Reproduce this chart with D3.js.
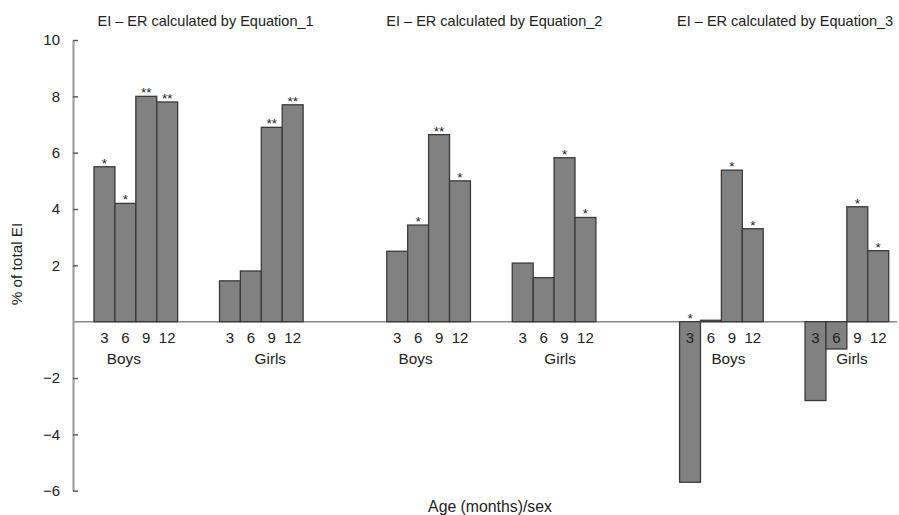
<!DOCTYPE html>
<html>
<head>
<meta charset="utf-8">
<script src="https://cdn.jsdelivr.net/npm/d3@7"></script>
<style>
  html, body { margin: 0; padding: 0; background: #fff; }
  svg { display: block; font-family: "Liberation Sans", Arial, Helvetica, sans-serif; }
</style>
</head>
<body>
<svg id="chart" width="899" height="515"></svg>
<script>
// Energy intake minus energy requirement (% of total EI) by age, sex and equation
const equations = ["Equation_1", "Equation_2", "Equation_3"];
const sexes = ["Boys", "Girls"];
const ages = [3, 6, 9, 12];

const eq1Boys  = [5.5, 4.2, 8.0, 7.8];
const eq1Girls = [1.45, 1.8, 6.9, 7.7];
const eq2Boys  = [2.5, 3.43, 6.64, 5.0];
const eq2Girls = [2.08, 1.56, 5.82, 3.7];
const eq3Boys  = [-5.7, 0.05, 5.38, 3.3];
const eq3Girls = [-2.8, -0.97, 4.08, 2.52];

// Significance markers above each bar
const eq1BoysSig  = ["*", "*", "**", "**"];
const eq1GirlsSig = ["", "", "**", "**"];
const eq2BoysSig  = ["", "*", "**", "*"];
const eq2GirlsSig = ["", "", "*", "*"];
const eq3BoysSig  = ["*", "", "*", "*"];
const eq3GirlsSig = ["", "", "*", "*"];

const yTicks = [10, 8, 6, 4, 2, -2, -4, -6];
const yDomain = [-6, 10];

const seriesValues = {
  "Equation_1": { Boys: eq1Boys, Girls: eq1Girls },
  "Equation_2": { Boys: eq2Boys, Girls: eq2Girls },
  "Equation_3": { Boys: eq3Boys, Girls: eq3Girls }
};
const seriesSig = {
  "Equation_1": { Boys: eq1BoysSig, Girls: eq1GirlsSig },
  "Equation_2": { Boys: eq2BoysSig, Girls: eq2GirlsSig },
  "Equation_3": { Boys: eq3BoysSig, Girls: eq3GirlsSig }
};

const rows = [];
equations.forEach(eq => sexes.forEach(sex => ages.forEach((age, i) => {
  rows.push({ eq, sex, age, value: seriesValues[eq][sex][i], sig: seriesSig[eq][sex][i] });
})));

// layout
const svg = d3.select("#chart");
const titleSize = 14.5;
const textSize = 15.3;
const axisX = 73;
// horizontal nudges of group labels and panel titles relative to their centres
const groupLabelNudge = [-12, 9, -13, 6, 7, 5];
const titleNudge = [7, 3, 1];

const y = d3.scaleLinear().domain(yDomain).range([490.7, 40]);

const xEq = d3.scaleBand().domain(equations).range([94, 888.7])
  .paddingInner(4 / 14).paddingOuter(0);
const xSex = d3.scaleBand().domain(sexes).range([0, xEq.bandwidth()])
  .paddingInner(1 / 3).paddingOuter(0);
const xAge = d3.scaleBand().domain(ages).range([0, xSex.bandwidth()]).padding(0);

const barX = d => xEq(d.eq) + xSex(d.sex) + xAge(d.age);
const barMid = d => barX(d) + xAge.bandwidth() / 2;

// zero reference line
svg.append("line")
  .attr("x1", axisX).attr("x2", 897)
  .attr("y1", y(0)).attr("y2", y(0))
  .attr("stroke", "#8a8a8a").attr("stroke-width", 1.6);

// bars
svg.append("g").selectAll("rect").data(rows).join("rect")
  .attr("x", barX)
  .attr("width", xAge.bandwidth())
  .attr("y", d => y(Math.max(0, d.value)))
  .attr("height", d => Math.abs(y(d.value) - y(0)))
  .attr("fill", "#818181")
  .attr("stroke", "#3a3a3a")
  .attr("stroke-width", 1.3);

// significance asterisks
svg.append("g").selectAll("text").data(rows.filter(d => d.sig)).join("text")
  .attr("x", barMid)
  .attr("y", d => y(Math.max(0, d.value)) + 1)
  .attr("text-anchor", "middle")
  .attr("font-size", 13.5)
  .attr("fill", "#222")
  .text(d => d.sig);

// age labels under the bars
svg.append("g").selectAll("text").data(rows).join("text")
  .attr("x", barMid)
  .attr("y", 343)
  .attr("text-anchor", "middle")
  .attr("font-size", 15)
  .attr("fill", "#222")
  .text(d => d.age);

// sex labels under each group
const groups = [];
equations.forEach(eq => sexes.forEach(sex => groups.push({ eq, sex })));
svg.append("g").selectAll("text").data(groups).join("text")
  .attr("x", (d, i) => xEq(d.eq) + xSex(d.sex) + xSex.bandwidth() / 2 + groupLabelNudge[i])
  .attr("y", 364)
  .attr("text-anchor", "middle")
  .attr("font-size", textSize)
  .attr("fill", "#222")
  .text(d => d.sex);

// panel titles
svg.append("g").selectAll("text").data(equations).join("text")
  .attr("x", (d, i) => xEq(d) + xEq.bandwidth() / 2 + titleNudge[i])
  .attr("y", 26)
  .attr("text-anchor", "middle")
  .attr("font-size", titleSize)
  .attr("fill", "#222")
  .text(d => "EI \u2013 ER calculated by " + d);

// y axis
const yAxis = d3.axisLeft(y)
  .tickValues(yTicks)
  .tickSize(-5)
  .tickSizeOuter(0)
  .tickPadding(13)
  .tickFormat(d3.format("d"));
const gy = svg.append("g").attr("transform", `translate(${axisX},0)`).call(yAxis);
gy.select(".domain").attr("stroke", "#a0a0a0").attr("stroke-width", 2.2);
gy.selectAll(".tick line").attr("stroke", "#555").attr("stroke-width", 1.4);
gy.selectAll(".tick text")
  .attr("font-size", 15)
  .attr("font-family", "'Liberation Sans', Arial, sans-serif")
  .attr("fill", "#222");

// axis titles
svg.append("text")
  .attr("transform", "translate(22,264) rotate(-90)")
  .attr("text-anchor", "middle")
  .attr("font-size", textSize)
  .attr("fill", "#222")
  .text("% of total EI");

svg.append("text")
  .attr("x", 490)
  .attr("y", 512)
  .attr("text-anchor", "middle")
  .attr("font-size", 15.8)
  .attr("fill", "#222")
  .text("Age (months)/sex");
</script>
</body>
</html>
